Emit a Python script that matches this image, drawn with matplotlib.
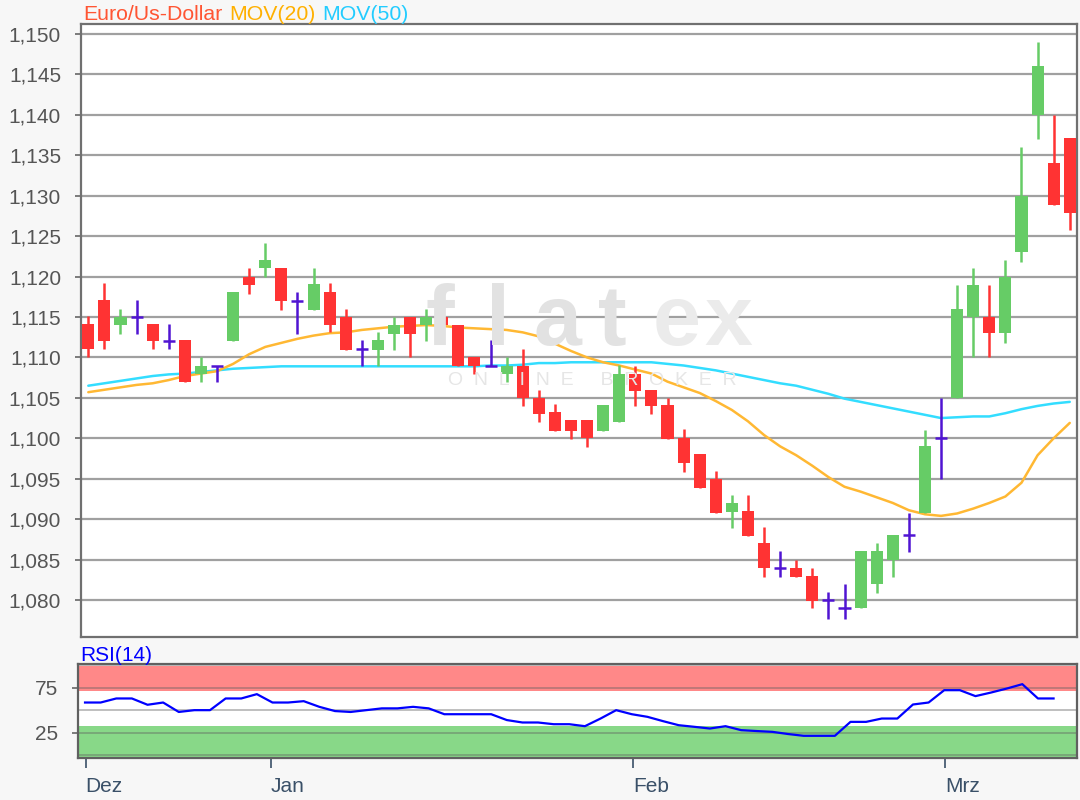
import matplotlib
matplotlib.use('Agg')
import matplotlib.pyplot as plt
import numpy as np

plt.rcParams['font.family'] = ['Liberation Sans', 'DejaVu Sans']

# ---------------- data ----------------
opens = [1.1141, 1.1171, 1.1140, 1.1150, 1.1141, 1.1120, 1.1121, 1.1080, 1.1090, 1.1120,
         1.1200, 1.1210, 1.1211, 1.1170, 1.1159, 1.1181, 1.1150, 1.1110, 1.1109, 1.1129,
         1.1150, 1.1140, 1.1150, 1.1140, 1.1100, 1.1090, 1.1080, 1.1090, 1.1050, 1.1032,
         1.1022, 1.1022, 1.1009, 1.1020, 1.1080, 1.1060, 1.1041, 1.1000, 1.0980, 1.0950,
         1.0909, 1.0910, 1.0871, 1.0840, 1.0840, 1.0830, 1.0800, 1.0790, 1.0790, 1.0820,
         1.0849, 1.0880, 1.0908, 1.1000, 1.1050, 1.1150, 1.1150, 1.1130, 1.1230, 1.1400,
         1.1341, 1.1371]
highs = [1.1151, 1.1192, 1.1160, 1.1171, 1.1141, 1.1141, 1.1121, 1.1100, 1.1090, 1.1181,
         1.1211, 1.1241, 1.1211, 1.1181, 1.1211, 1.1192, 1.1160, 1.1121, 1.1131, 1.1150,
         1.1150, 1.1160, 1.1171, 1.1140, 1.1100, 1.1121, 1.1100, 1.1110, 1.1060, 1.1042,
         1.1022, 1.1022, 1.1041, 1.1091, 1.1090, 1.1060, 1.1050, 1.1011, 1.0980, 1.0960,
         1.0930, 1.0930, 1.0890, 1.0860, 1.0850, 1.0840, 1.0810, 1.0820, 1.0860, 1.0871,
         1.0880, 1.0908, 1.1010, 1.1050, 1.1190, 1.1210, 1.1190, 1.1220, 1.1360, 1.1490,
         1.1400, 1.1371]
lows = [1.1100, 1.1110, 1.1129, 1.1129, 1.1110, 1.1110, 1.1069, 1.1069, 1.1069, 1.1120,
        1.1179, 1.1200, 1.1159, 1.1129, 1.1159, 1.1131, 1.1109, 1.1090, 1.1090, 1.1109,
        1.1100, 1.1120, 1.1129, 1.1090, 1.1079, 1.1090, 1.1070, 1.1040, 1.1020, 1.1009,
        1.0999, 1.0989, 1.1009, 1.1020, 1.1040, 1.1030, 1.0999, 1.0958, 1.0939, 1.0908,
        1.0889, 1.0879, 1.0829, 1.0829, 1.0829, 1.0790, 1.0777, 1.0777, 1.0790, 1.0809,
        1.0829, 1.0859, 1.0908, 1.0950, 1.1050, 1.1100, 1.1100, 1.1118, 1.1218, 1.1370,
        1.1289, 1.1258]
closes = [1.1110, 1.1120, 1.1150, 1.1150, 1.1120, 1.1120, 1.1069, 1.1090, 1.1090, 1.1181,
          1.1190, 1.1221, 1.1170, 1.1170, 1.1191, 1.1140, 1.1109, 1.1110, 1.1121, 1.1140,
          1.1129, 1.1150, 1.1140, 1.1090, 1.1090, 1.1090, 1.1090, 1.1050, 1.1030, 1.1009,
          1.1009, 1.1000, 1.1041, 1.1080, 1.1059, 1.1040, 1.0999, 1.0969, 1.0939, 1.0908,
          1.0920, 1.0879, 1.0839, 1.0840, 1.0829, 1.0799, 1.0800, 1.0790, 1.0860, 1.0860,
          1.0880, 1.0880, 1.0990, 1.1000, 1.1160, 1.1190, 1.1130, 1.1200, 1.1300, 1.1460,
          1.1289, 1.1279]
mov20 = [1.1057, 1.1060, 1.1063, 1.1066, 1.1068, 1.1072, 1.1077, 1.1080, 1.1083, 1.1092,
         1.1104, 1.1113, 1.1118, 1.1123, 1.1127, 1.1130, 1.1131, 1.1134, 1.1136, 1.1138,
         1.1139, 1.1140, 1.1139, 1.1137, 1.1136, 1.1135, 1.1134, 1.1131, 1.1126, 1.1117,
         1.1108, 1.1100, 1.1094, 1.1090, 1.1085, 1.1080, 1.1070, 1.1063, 1.1056, 1.1046,
         1.1035, 1.1021, 1.1004, 1.0990, 1.0979, 1.0966, 1.0952, 1.0940, 1.0934, 1.0927,
         1.0920, 1.0911, 1.0906, 1.0904, 1.0907, 1.0913, 1.0920, 1.0928, 1.0945, 1.0979,
         1.1000, 1.1019]
mov50 = [1.1065, 1.1068, 1.1071, 1.1074, 1.1077, 1.1079, 1.1080, 1.1082, 1.1084, 1.1086,
         1.1087, 1.1088, 1.1089, 1.1089, 1.1089, 1.1089, 1.1089, 1.1089, 1.1089, 1.1089,
         1.1089, 1.1089, 1.1089, 1.1089, 1.1089, 1.1090, 1.1090, 1.1091, 1.1093, 1.1093,
         1.1094, 1.1094, 1.1094, 1.1094, 1.1094, 1.1094, 1.1092, 1.1090, 1.1087, 1.1084,
         1.1080, 1.1076, 1.1072, 1.1068, 1.1065, 1.1060, 1.1055, 1.1049, 1.1045, 1.1041,
         1.1037, 1.1033, 1.1029, 1.1025, 1.1026, 1.1027, 1.1027, 1.1031, 1.1036, 1.1040,
         1.1043, 1.1045]
rsi = [58.5, 58.5, 63.0, 63.0, 56.0, 58.5, 48.0, 50.0, 50.0, 63.0,
       63.0, 67.8, 58.5, 58.5, 60.0, 53.7, 49.0, 48.0, 50.0, 52.0,
       52.0, 53.7, 52.0, 45.5, 45.5, 45.5, 45.5, 39.0, 36.3, 36.3,
       34.4, 34.4, 32.2, 40.7, 50.0, 45.5, 42.6, 37.8, 33.3, 31.5,
       29.6, 32.2, 27.8, 26.8, 25.9, 23.5, 21.5, 21.5, 21.5, 37.0,
       37.0, 40.7, 40.7, 56.3, 58.5, 72.2, 72.2, 65.6, 69.6, 74.0,
       78.9, 63.0, 63.0]
price_ticks = [1.080, 1.085, 1.090, 1.095, 1.100, 1.105, 1.110, 1.115,
               1.120, 1.125, 1.130, 1.135, 1.140, 1.145, 1.150]
rsi_ticks = [25, 75]
rsi_grid = [0, 25, 50, 75, 100]
month_labels = ['Dez', 'Jan', 'Feb', 'Mrz']
month_pos = [0.04, 11.9, 35.1, 55.05]

# ---------------- style ----------------
RED = '#FF3333'
GREEN = '#66CC66'
DOJI = '#5014D2'
ORANGE = '#FFB833'
CYAN = '#33DDFF'
W_PX, H_PX = 1080, 800


def rect(l, t, r, b):
    return [l / W_PX, 1 - b / H_PX, (r - l) / W_PX, (b - t) / H_PX]


fig = plt.figure(figsize=(10.8, 8.0), dpi=100, facecolor='#F7F7F7')
ax = fig.add_axes(rect(80.5, 24, 1077, 637))
ax2 = fig.add_axes(rect(78, 664, 1077, 757.5))

# ---------------- main panel ----------------
o = np.array(opens); h = np.array(highs); l = np.array(lows); c = np.array(closes)
idx = np.arange(len(o))
up = c > o
down = c < o
doji = c == o
BW = 0.75

ax.plot(idx, mov50, color=CYAN, lw=1.8, zorder=2, solid_capstyle='round')
ax.plot(idx, mov20, color=ORANGE, lw=1.8, zorder=2, solid_capstyle='round')

for mask, col in [(up, GREEN), (down, RED), (doji, DOJI)]:
    ax.vlines(idx[mask], l[mask], h[mask], color=col, lw=1.8, zorder=3)
ax.bar(idx[up], (c - o)[up], bottom=o[up], width=BW, color=GREEN, zorder=4, linewidth=0)
ax.bar(idx[down], (o - c)[down], bottom=c[down], width=BW, color=RED, zorder=4, linewidth=0)
ax.hlines(c[doji], idx[doji] - BW / 2, idx[doji] + BW / 2, color=DOJI, lw=1.8, zorder=4)

ax.set_xlim(-0.485, 61.45)
ax.set_ylim(1.07542, 1.15124)
ax.set_yticks(price_ticks)
ax.set_yticklabels([f'{v:.3f}'.replace('.', ',') for v in price_ticks])
ax.set_xticks([])
ax.grid(axis='y', color='#A0A0A0', lw=1.6)
ax.set_axisbelow(True)
ax.tick_params(axis='y', length=4, width=1.2, color='#666666', labelsize=15,
               labelcolor='#555555', pad=10)
for s in ax.spines.values():
    s.set_color('#707070')
    s.set_linewidth(1.6)

# watermark
wm_letters = ['f', 'l', 'a', 't', 'e', 'x']
wm_colors = ['#E2E2E2', '#E2E2E2', '#E2E2E2', '#E2E2E2', '#EBEBEB', '#EBEBEB']
wm_x = [440, 498, 557, 612, 677, 728]
for ch, xp, col in zip(wm_letters, wm_x, wm_colors):
    fig.text(xp / W_PX, 1 - 345 / H_PX, ch, fontsize=62, color=col, fontweight='bold',
             ha='center', va='baseline', zorder=0)
fig.text(592 / W_PX, 1 - 385 / H_PX, 'O  N  L  I  N  E     B  R  O  K  E  R',
         fontsize=14, color='#E6E6E6', ha='center', va='baseline', zorder=0)

# title
renderer = fig.canvas.get_renderer()
x_cursor = 83
for txt, col in [('Euro/Us-Dollar', '#FF5533'), ('MOV(20)', '#FFB000'), ('MOV(50)', '#22CCFF')]:
    t = fig.text(x_cursor / W_PX, 1 - 20.5 / H_PX, txt, color=col, fontsize=15.3,
                 ha='left', va='baseline')
    bb = t.get_window_extent(renderer=renderer)
    x_cursor += bb.width + 7

# ---------------- RSI panel ----------------
ax2.axhspan(71, 99.5, color='#FF8888', lw=0, zorder=0)
ax2.axhspan(-3, 32.6, color='#88D888', lw=0, zorder=0)
for g in rsi_grid:
    ax2.axhline(g, color='#606060', alpha=0.4, lw=1.4, zorder=1)
ax2.plot(np.arange(len(rsi)), rsi, color='#0000FF', lw=1.6, zorder=3)
ax2.set_xlim(-0.45, 63.5)
ax2.set_ylim(-2.6, 101.3)
ax2.set_yticks(rsi_ticks)
ax2.set_yticklabels([str(v) for v in rsi_ticks])
ax2.set_xticks(month_pos)
ax2.set_xticklabels(month_labels, ha='left')
ax2.tick_params(axis='y', length=4, width=1.2, color='#666666', labelsize=15,
                labelcolor='#555555', pad=10)
ax2.tick_params(axis='x', length=7, width=1.2, color='#3A5068', labelsize=15,
                labelcolor='#3A5068', pad=7)
for s in ax2.spines.values():
    s.set_color('#606060')
    s.set_linewidth(1.6)
fig.text(80 / W_PX, 1 - 661 / H_PX, 'RSI(14)', color='#0000FF', fontsize=15,
         ha='left', va='baseline')

fig.savefig('out.png', dpi=100, facecolor=fig.get_facecolor())
